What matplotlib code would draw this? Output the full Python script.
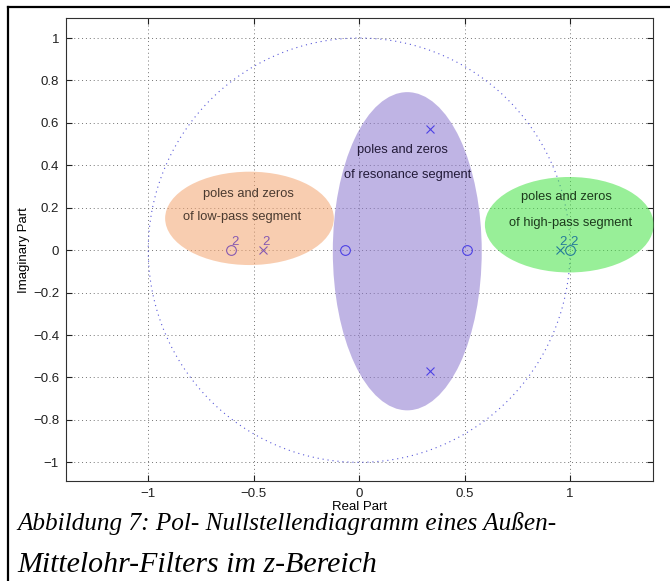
import numpy as np
import matplotlib
matplotlib.use("Agg")
import matplotlib.pyplot as plt
from matplotlib.patches import Ellipse
from matplotlib.lines import Line2D

# ---- data ----
zeros_re = [-0.608, -0.068, 0.51, 1.0]
zeros_im = [0.0, 0.0, 0.0, 0.0]
zeros_mult = [2, 1, 1, 2]
poles_re = [-0.457, 0.335, 0.335, 0.95]
poles_im = [0.0, 0.57, -0.57, 0.0]
poles_mult = [2, 1, 1, 2]

xticks = [-1, -0.5, 0, 0.5, 1]
xticklabels = ["\u22121", "\u22120.5", "0", "0.5", "1"]
yticks = [-1, -0.8, -0.6, -0.4, -0.2, 0, 0.2, 0.4, 0.6, 0.8, 1]
yticklabels = ["\u22121", "\u22120.8", "\u22120.6", "\u22120.4", "\u22120.2", "0",
               "0.2", "0.4", "0.6", "0.8", "1"]

region_names = ["low-pass", "resonance", "high-pass"]
region_centers = [(-0.52, 0.15), (0.228, -0.005), (0.996, 0.12)]
region_sizes = [(0.80, 0.44), (0.706, 1.50), (0.80, 0.45)]
region_colors = ["#f4a46f", "#8c77ce", "#44e244"]
region_text_colors = ["#4a3a30", "#221a38", "#1c3a1c"]
region_text_pos = [[(-0.527, 0.264), (-0.556, 0.157)],
                   [(0.203, 0.472), (0.231, 0.354)],
                   [(0.981, 0.249), (1.001, 0.126)]]

caption = ["Abbildung 7: Pol- Nullstellendiagramm eines Au\u00dfen-",
           "Mittelohr-Filters im z-Bereich"]

plt.rcParams['font.family'] = ['Liberation Sans', 'DejaVu Sans']

W, H = 670, 581
fig = plt.figure(figsize=(W / 100, H / 100), dpi=100)
ax = fig.add_axes([66 / W, 1 - 481 / H, (653 - 66) / W, (481 - 18.3) / H])

ax.set_xlim(-1.39, 1.393)
ax.set_ylim(-1.088, 1.093)

# grid
ax.set_xticks(xticks)
ax.set_xticklabels(xticklabels)
ax.set_yticks(yticks)
ax.set_yticklabels(yticklabels)
ax.grid(True, color="0.45", linestyle=(0, (1, 3)), linewidth=0.7, zorder=0)
ax.set_axisbelow(True)

# unit circle
t = np.linspace(0, 2 * np.pi, 400)
ax.plot(np.cos(t), np.sin(t), color=(0.35, 0.35, 0.85), linestyle=(0, (1, 3.5)),
        linewidth=0.8, zorder=1)

# zeros and poles
ax.plot(zeros_re, zeros_im, linestyle="none", marker="o", markersize=7,
        markerfacecolor="none", markeredgecolor="blue", markeredgewidth=0.8, zorder=2)
ax.plot(poles_re, poles_im, linestyle="none", marker="x", markersize=6,
        markeredgecolor="blue", markeredgewidth=0.8, zorder=2)
for xs, ys, ms in [(zeros_re, zeros_im, zeros_mult), (poles_re, poles_im, poles_mult)]:
    for x, y, m in zip(xs, ys, ms):
        if m > 1:
            ax.text(x, y + 0.012, str(m), color="blue", fontsize=9.5,
                    ha="left", va="bottom", zorder=2)

# translucent ellipses
for (cx, cy), (w, h), c in zip(region_centers, region_sizes, region_colors):
    ax.add_patch(Ellipse((cx, cy), w, h, facecolor=c, edgecolor="none",
                         alpha=0.55, zorder=3, clip_on=False))

# region labels
for name, pos, tc in zip(region_names, region_text_pos, region_text_colors):
    ax.text(pos[0][0], pos[0][1], "poles and zeros", color=tc, fontsize=9.3,
            ha="center", va="center", zorder=4)
    ax.text(pos[1][0], pos[1][1], "of " + name + " segment", color=tc, fontsize=9.3,
            ha="center", va="center", zorder=4)

ax.set_xlabel("Real Part", fontsize=9.5, labelpad=1)
ax.set_ylabel("Imaginary Part", fontsize=9.5, labelpad=2)

ax.tick_params(direction="in", length=4, width=0.8, top=True, right=True,
               labelsize=9.5, colors="#202020", pad=5)
for s in ax.spines.values():
    s.set_color("#303030")
    s.set_linewidth(0.8)

# document frame lines (top and left)
fig.add_artist(Line2D([8 / W, 1.0], [1 - 7 / H, 1 - 7 / H], color="black",
                      linewidth=1.6, transform=fig.transFigure))
fig.add_artist(Line2D([8 / W, 8 / W], [0.0, 1 - 7 / H], color="black",
                      linewidth=1.6, transform=fig.transFigure))

# caption
fig.text(17 / W, 1 - 530 / H, caption[0], family="Liberation Serif", style="italic",
         fontsize=18.2, ha="left", va="baseline")
fig.text(17 / W, 1 - 572 / H, caption[1], family="Liberation Serif", style="italic",
         fontsize=21.5, ha="left", va="baseline")

fig.savefig("out.png", dpi=100)
